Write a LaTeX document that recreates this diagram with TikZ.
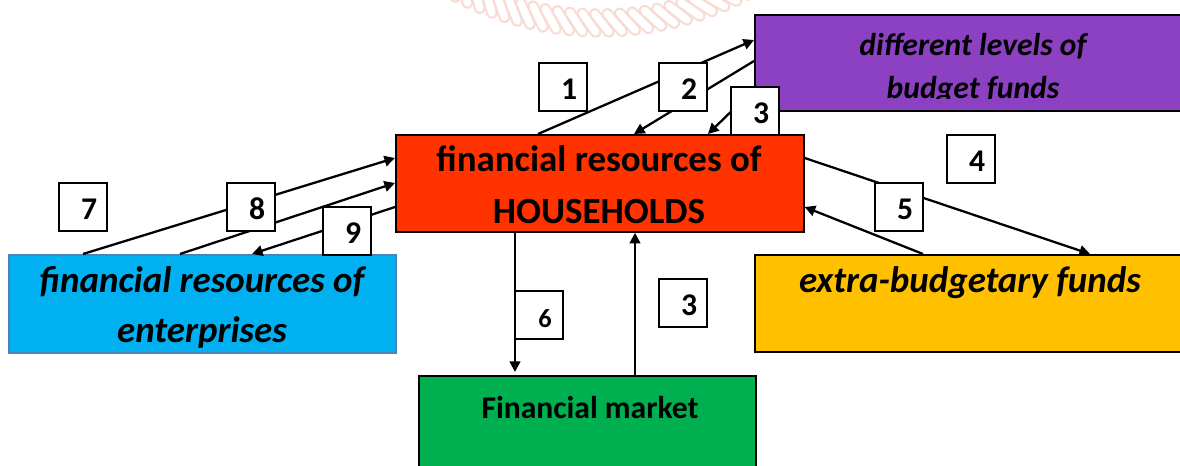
\documentclass[tikz,border=0pt]{standalone}
\usepackage{fontspec}
\setmainfont{Carlito}
\usepackage{tikz}
\usetikzlibrary{arrows.meta}
\usetikzlibrary{calc}

\definecolor{budgetpurple}{HTML}{8B41C2}
\definecolor{hhred}{HTML}{FF3300}
\definecolor{entblue}{HTML}{00B0F0}
\definecolor{entborder}{HTML}{4F81BD}
\definecolor{extrayellow}{HTML}{FFC000}
\definecolor{marketgreen}{HTML}{00B050}
\definecolor{ropepink}{HTML}{F8DCD4}

\tikzset{
    fundbox/.style={draw=black, line width=1pt, anchor=north west, inner sep=0pt},
    numbox/.style={draw=black, fill=white, line width=1.1pt, anchor=north west, minimum size=0.96cm,
        inner sep=0pt, text height=14.8pt, text depth=0pt, font=\bfseries\fontsize{18}{18}\selectfont,
        execute at begin node=\kern7pt},
    flow/.style={line width=1.3pt, -{Triangle[length=6pt, width=6pt]}},
    rope/.style={draw=ropepink, double=white, double distance=4.2pt, line width=1.2pt, line cap=round},
}

\begin{document}
\begin{tikzpicture}[x=0.02cm, y=-0.02cm]
    \clip (0, 0) rectangle (1180, 466);
    \fill[white] (0, 0) rectangle (1180, 466);

    % faint rope ornament along the top edge
    \foreach \a in {55, 57.4, ..., 125}
        \draw[rope, shift={(600, -284)}] (\a:298) -- (\a-2.6:316);

    % fund boxes
    \node[fundbox, fill=budgetpurple, minimum width=8.6cm, minimum height=1.92cm] (budget) at (754, 14) {};
    \node[fundbox, fill=hhred, minimum width=8.16cm, minimum height=1.94cm] (hh) at (395, 134) {};
    \node[fundbox, fill=entblue, draw=entborder, minimum width=7.74cm, minimum height=1.96cm] (ent) at (8, 254) {};
    \node[fundbox, fill=extrayellow, minimum width=8.6cm, minimum height=1.94cm] (extra) at (754, 254) {};
    \node[fundbox, fill=marketgreen, minimum width=6.74cm, minimum height=2.2cm] (market) at (418, 375) {};

    \begin{scope}
        \clip (754, 14) rectangle (1180, 98.5);
        \node[anchor=base, font=\bfseries\itshape\fontsize{18}{18}\selectfont] (budgetA) at (973, 56) {different levels of};
        \node[anchor=base, font=\bfseries\itshape\fontsize{18}{18}\selectfont] (budgetB) at (973, 99) {budget funds};
    \end{scope}
    \node[anchor=base, font=\bfseries\fontsize{21}{21}\selectfont] (hhA) at (599, 172) {financial resources of};
    \node[anchor=base, font=\bfseries\fontsize{21}{21}\selectfont] (hhB) at (599, 223) {HOUSEHOLDS};
    \node[anchor=base, font=\bfseries\itshape\fontsize{21}{21}\selectfont] (entA) at (202, 292) {financial resources of};
    \node[anchor=base, font=\bfseries\itshape\fontsize{21}{21}\selectfont] (entB) at (202, 342) {enterprises};
    \node[anchor=base, font=\bfseries\itshape\fontsize{21}{21}\selectfont] (extraA) at (970, 292) {extra-budgetary funds};
    \node[anchor=base, font=\bfseries\fontsize{18}{18}\selectfont] (marketA) at (590, 418) {Financial market};

    % flows between the funds
    \draw[flow] ($(hh.north west)+(143, 0)$) -- ($(budget.north west)+(0, 26)$);
    \draw[flow] ($(budget.north west)+(0, 47)$) -- ($(hh.north west)+(239, 0)$);
    \draw[flow] (742, 101) -- ($(hh.north west)+(313, 0)$);
    \draw[flow] ($(hh.north east)+(0, 24)$) -- ($(extra.north west)+(336, 0)$);
    \draw[flow] ($(extra.north west)+(169, 0)$) -- ($(hh.north east)+(0, 73)$);
    \draw[flow] ($(hh.south west)+(120, 0)$) -- ($(market.north west)+(97, -3)$);
    \draw[flow] ($(market.north west)+(217, 0)$) -- ($(hh.south west)+(240, 0)$);
    \draw[flow] ($(ent.north west)+(75, 0)$) -- ($(hh.north west)+(0, 24)$);
    \draw[flow] ($(ent.north west)+(172, 0)$) -- ($(hh.north west)+(0, 49)$);
    \draw[flow] ($(hh.north west)+(0, 73)$) -- ($(ent.north west)+(244, 0)$);

    % numbered flow labels
    \node[numbox] (n1) at (538, 62) {1};
    \node[numbox] (n2) at (658, 62) {2};
    \node[numbox] (n3) at (730, 86) {3};
    \node[numbox] (n4) at (946, 134) {4};
    \node[numbox] (n5) at (874, 182) {5};
    \node[numbox] (n7) at (58, 182) {7};
    \node[numbox] (n8) at (226, 182) {8};
    \node[numbox] (n9) at (322, 206) {9};
    \node[numbox, font=\bfseries\fontsize{15}{15}\selectfont] (n6) at (514, 290) {6};
    \node[numbox] (n3b) at (658, 278) {3};
\end{tikzpicture}
\end{document}
